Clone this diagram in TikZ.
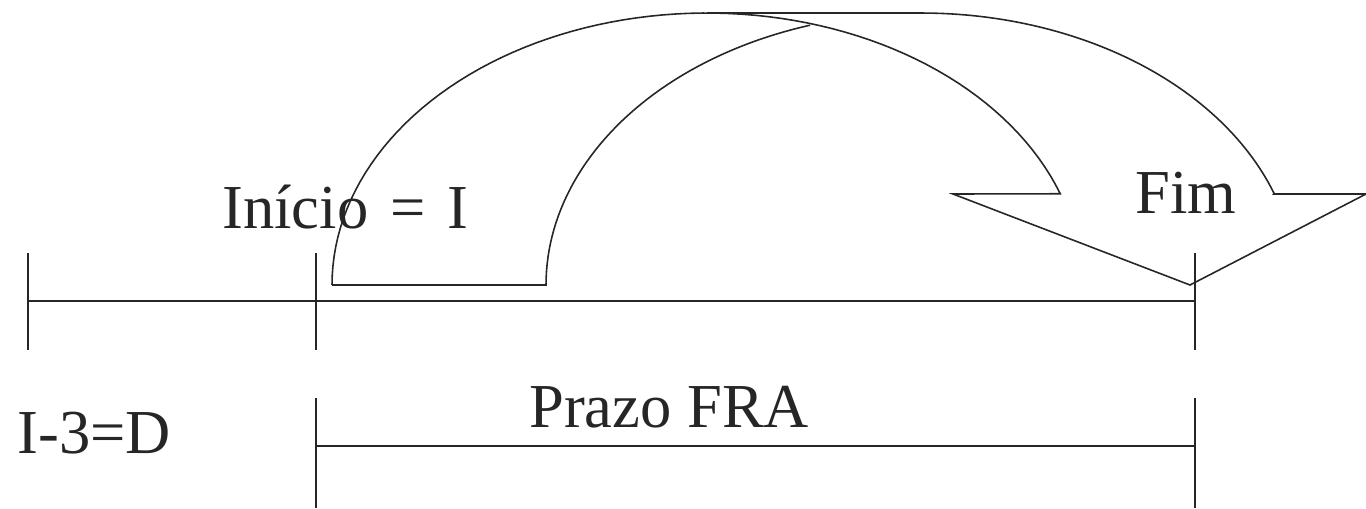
\documentclass[tikz,border=0pt]{standalone}
\usepackage{fontspec}
\setmainfont{Liberation Serif}
\usetikzlibrary{positioning}

\begin{document}
\begin{tikzpicture}[
    x=0.02cm, y=-0.02cm,
    every node/.style={font=\fontsize{35.6}{42}\selectfont, inner sep=0pt, anchor=base west, text=black!85},
    axis/.style={line width=1.1pt, draw=black!85},
    band/.style={line width=0.9pt, draw=black!85, line join=miter}
]
\useasboundingbox (0,0) rectangle (1366,508);

% upper time axis
\coordinate (D) at (28,301);
\coordinate (I) at (316,301);
\coordinate (F) at (1195,301);
\draw[axis] (D) -- (I) -- (F);
\foreach \x in {28,316,1195}
    \draw[axis] (\x,253) -- (\x,350);

% FRA period
\coordinate (I2) at (316,446);
\coordinate (F2) at (1195,446);
\draw[axis] (I2) -- (F2);
\foreach \x in {316,1195}
    \draw[axis] (\x,398) -- (\x,508);

% curved arrow
\draw[band] plot[domain=180:19.6, samples=80] ({707+375*cos(\x)}, {285-272*sin(\x)})
    -- (953,194) -- (1190,285) -- (1366,194) -- (1274,194)
    -- plot[domain=19.6:90, samples=50] ({921+375*cos(\x)}, {285-272*sin(\x)})
    -- (707,13);
\draw[band] (332,285) -- (546,285)
    -- plot[domain=180:107.2, samples=50] ({921+375*cos(\x)}, {285-272*sin(\x)});

% labels
\node (inicio) at (222,228) {Início\hspace{0.1em} =\hspace{0.1em} I};
\node (fim) at (1135,213) {Fim};
\node (prazo) at (529,427) {Prazo FRA};
\node (dlabel) at (17,453) {I-3=D};
\end{tikzpicture}
\end{document}
